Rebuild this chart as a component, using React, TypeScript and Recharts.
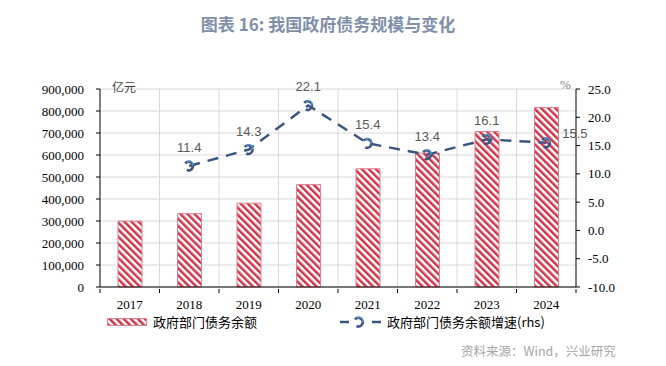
import React from 'react';
import { ComposedChart, Bar, Line, XAxis, YAxis, CartesianGrid, LabelList } from 'recharts';

const years = ['2017', '2018', '2019', '2020', '2021', '2022', '2023', '2024'];
const debtBalance = [299500, 333500, 381000, 465500, 537400, 609000, 707000, 816000];
const debtGrowth: (number | null)[] = [null, 11.4, 14.3, 22.1, 15.4, 13.4, 16.1, 15.5];
const leftTicks = [0, 100000, 200000, 300000, 400000, 500000, 600000, 700000, 800000, 900000];
const rightTicks = [-10, -5, 0, 5, 10, 15, 20, 25];

const data = years.map((year, i) => ({ year, debt: debtBalance[i], growth: debtGrowth[i] }));

const RED = '#cf3348';
const LINE = '#3b5580';
const CJK = '"Noto Sans CJK SC", sans-serif';
const NUM = '"Liberation Serif", serif';

const fmt = (v: number) => v.toLocaleString('en-US');

// label at category centre plus a tick mark on each band boundary
const XTick = (props: any) => {
  const { x, y, payload, index } = props;
  const half = 476 / years.length / 2;
  return (
    <g>
      <line x1={x - half} y1={y - 6} x2={x - half} y2={y - 2} stroke="#000" />
      {index === years.length - 1 && <line x1={x + half} y1={y - 6} x2={x + half} y2={y - 2} stroke="#000" />}
      <text x={x} y={y + 14} textAnchor="middle" fontSize={13} fontFamily={NUM} fill="#000">{payload.value}</text>
    </g>
  );
};

const Marker = (props: any) => {
  const { cx, cy, index } = props;
  if (cx == null || cy == null || debtGrowth[index] == null) return <g key={index} />;
  return (
    <g key={index}>
      <path d={`M ${cx - 4} ${cy - 2.5} A 4.3 4.3 0 1 1 ${cx - 2.5} ${cy + 4}`} fill="none" stroke={LINE} strokeWidth={2.6} />
      <path d={`M ${cx - 2} ${cy - 3.5} A 3 3 0 0 1 ${cx + 3} ${cy}`} fill="none" stroke="#5b9bd5" strokeWidth={1.2} />
    </g>
  );
};

const GrowthLabel = (props: any) => {
  const { x, y, value, index } = props;
  if (value == null) return null;
  const last = index === years.length - 1;
  return (
    <text
      x={last ? x + 16 : x}
      y={last ? y - 5 : y - 14}
      textAnchor={last ? 'start' : 'middle'}
      fontSize={13}
      fontFamily='"Liberation Sans", sans-serif'
      fill="#595959"
    >
      {value.toFixed(1)}
    </text>
  );
};

export default function App() {
  return (
    <div style={{ position: 'absolute', left: 0, top: 0, width: 666, height: 366, background: '#fff' }}>
      <div style={{ position: 'absolute', top: 11, left: 0, width: 656, textAlign: 'center', fontFamily: CJK, fontWeight: 700, fontSize: 17, color: '#7f8fa9' }}>
        图表 16: 我国政府债务规模与变化
      </div>

      <ComposedChart width={666} height={366} data={data} margin={{ top: 89, right: 40, bottom: 49, left: 0 }}>
        <defs>
          <pattern id="hatch" patternUnits="userSpaceOnUse" width={5} height={5} patternTransform="rotate(-45)">
            <rect width={5} height={5} fill="#fff" />
            <line x1={1.25} y1={0} x2={1.25} y2={5} stroke={RED} strokeWidth={2.5} />
          </pattern>
        </defs>
        <CartesianGrid
          yAxisId="left"
          stroke="#d9d9d9"
          verticalCoordinatesGenerator={({ offset }: any) =>
            years.slice(1).map((_, i) => offset.left + ((i + 1) * offset.width) / years.length)
          }
        />
        <XAxis dataKey="year" tickLine={false} tick={<XTick />} height={30} stroke="#000" interval={0} />
        <YAxis
          yAxisId="left"
          domain={[0, 900000]}
          ticks={leftTicks}
          tickFormatter={fmt}
          width={100}
          tickSize={4}
          tickMargin={12}
          stroke="#000"
          tick={{ fontSize: 13, fontFamily: NUM, fill: '#000' }}
          interval={0}
        />
        <YAxis
          yAxisId="right"
          orientation="right"
          domain={[-10, 25]}
          ticks={rightTicks}
          tickFormatter={(v: number) => v.toFixed(1)}
          width={50}
          tickSize={4}
          tickMargin={8}
          stroke="#000"
          tick={{ fontSize: 13, fontFamily: NUM, fill: '#000' }}
          interval={0}
        />
        <Bar yAxisId="left" dataKey="debt" barSize={24} fill="url(#hatch)" stroke="#e07f8d" strokeWidth={1} isAnimationActive={false} />
        <Line
          yAxisId="right"
          dataKey="growth"
          stroke={LINE}
          strokeWidth={2.5}
          strokeDasharray="11 8"
          dot={<Marker />}
          activeDot={false}
          connectNulls
          isAnimationActive={false}
        >
          <LabelList dataKey="growth" content={<GrowthLabel />} />
        </Line>
      </ComposedChart>

      <div style={{ position: 'absolute', left: 112, top: 78, fontFamily: CJK, fontSize: 12, color: '#404040' }}>亿元</div>
      <div style={{ position: 'absolute', left: 560, top: 77, fontFamily: NUM, fontSize: 13, color: '#808080' }}>%</div>

      <div style={{ position: 'absolute', left: 107, top: 312, display: 'flex', alignItems: 'center', fontFamily: CJK, fontSize: 13, color: '#000' }}>
        <svg width={40} height={8} style={{ marginRight: 6 }}>
          <rect x={0.5} y={0.5} width={39} height={7} fill="url(#hatch)" stroke="#e07f8d" />
        </svg>
        政府部门债务余额
      </div>
      <div style={{ position: 'absolute', left: 339, top: 312, display: 'flex', alignItems: 'center', fontFamily: CJK, fontSize: 13, color: '#000' }}>
        <svg width={46} height={12} style={{ marginRight: 2 }}>
          <line x1={1} y1={6} x2={10} y2={6} stroke={LINE} strokeWidth={2.5} />
          <Marker cx={20} cy={6} index={1} />
          <line x1={33} y1={6} x2={42} y2={6} stroke={LINE} strokeWidth={2.5} />
        </svg>
        政府部门债务余额增速(rhs)
      </div>

      <div style={{ position: 'absolute', left: 461, top: 341, fontFamily: CJK, fontSize: 12.5, color: '#a6a6a6' }}>
        资料来源：Wind，兴业研究
      </div>
    </div>
  );
}
